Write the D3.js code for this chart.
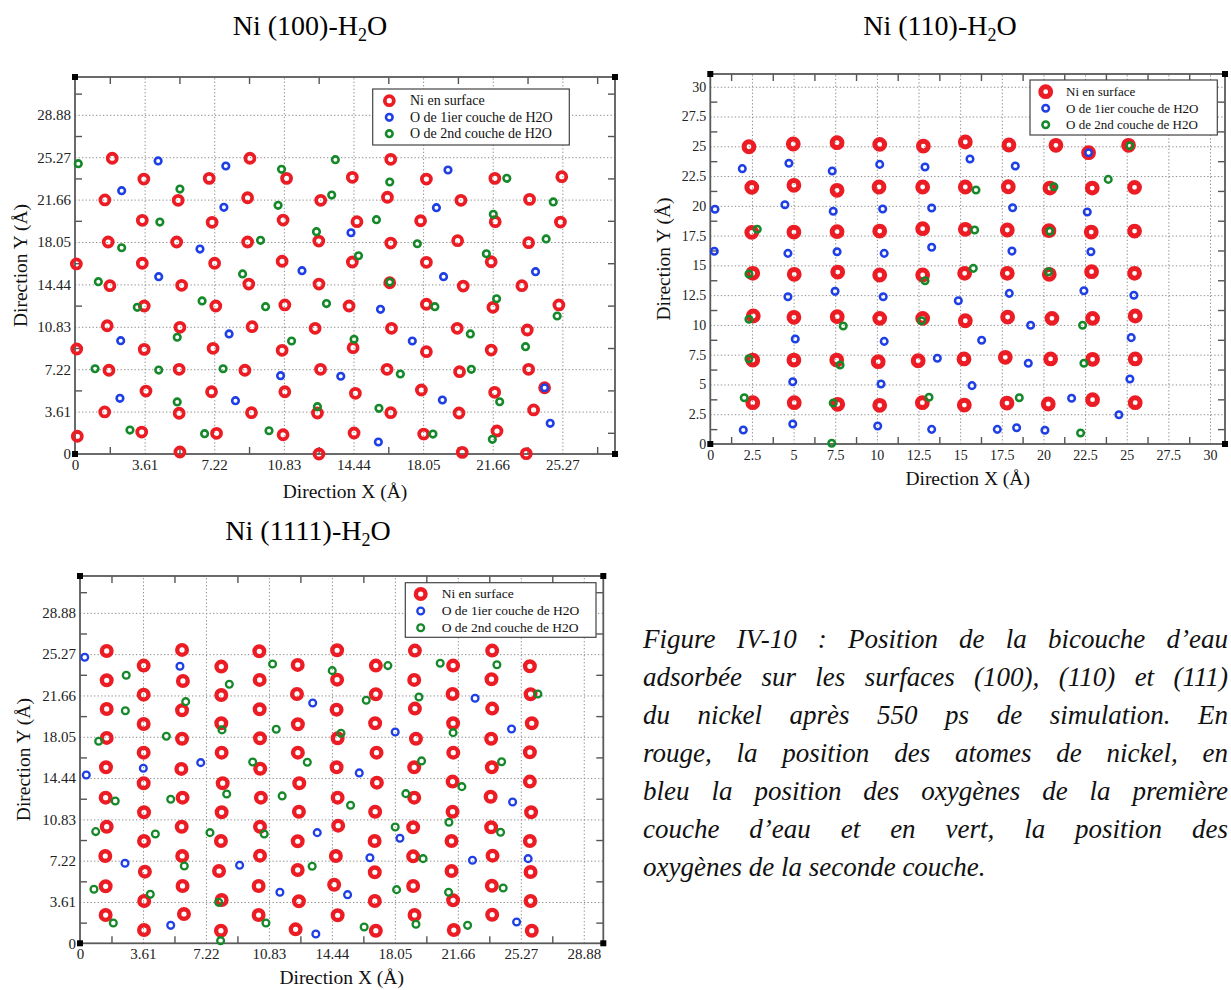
<!DOCTYPE html>
<html><head><meta charset="utf-8">
<script src="https://cdn.jsdelivr.net/npm/d3@7"></script>
<style>html,body{margin:0;padding:0;background:#fff;overflow:hidden}</style>
</head><body>
<svg id="c" width="1231" height="990" xmlns="http://www.w3.org/2000/svg"></svg>
<script>
// ---------- labels ----------
const legendLabels = ["Ni en surface", "O de 1ier couche de H2O", "O de 2nd couche de H2O"];
const ticks361 = [0, 3.61, 7.22, 10.83, 14.44, 18.05, 21.66, 25.27, 28.88];
const tickLabels361 = ["0", "3.61", "7.22", "10.83", "14.44", "18.05", "21.66", "25.27", "28.88"];
const ticks25 = [0, 2.5, 5, 7.5, 10, 12.5, 15, 17.5, 20, 22.5, 25, 27.5, 30];
const tickLabels25 = ["0", "2.5", "5", "7.5", "10", "12.5", "15", "17.5", "20", "22.5", "25", "27.5", "30"];
const captionLines = [
  "Figure IV-10 : Position de la bicouche d’eau",
  "adsorbée sur les surfaces (100), (110) et (111)",
  "du nickel après 550 ps de simulation. En",
  "rouge, la position des atomes de nickel, en",
  "bleu la position des oxygènes de la première",
  "couche d’eau et en vert, la position des",
  "oxygènes de la seconde couche."
];

// ---------- Ni (100) ----------
const ni100 = [[0.07,16.18],[0.09,8.94],[0.12,1.51],
[1.93,25.18],[1.55,21.63],[1.72,18.05],[1.81,14.33],[1.67,10.92],[1.76,7.13],[1.54,3.58],
[3.57,23.41],[3.49,19.90],[3.49,16.24],[3.59,12.60],[3.59,8.91],[3.68,5.36],[3.46,1.87],
[5.35,21.60],[5.27,18.05],[5.53,14.36],[5.44,10.79],[5.40,7.21],[5.40,3.47],[5.44,0.17],
[6.96,23.47],[7.11,19.73],[7.24,16.24],[7.30,12.60],[7.16,9.00],[7.08,5.30],[7.34,1.76],
[9.07,25.18],[8.95,21.82],[8.95,18.05],[9.01,14.47],[9.18,10.84],[8.81,7.13],[9.15,3.52],
[10.97,23.47],[10.79,19.92],[10.74,16.41],[10.88,12.69],[10.74,8.83],[10.88,5.30],[10.79,1.64],
[12.74,21.60],[12.64,18.13],[12.65,14.47],[12.45,10.70],[12.73,7.21],[12.57,3.49],[12.65,0.00],
[14.38,23.56],[14.62,19.78],[14.38,16.35],[14.21,12.60],[14.42,9.05],[14.54,5.17],[14.47,1.79],
[16.37,25.09],[16.20,21.86],[16.37,17.96],[16.32,14.58],[16.41,10.70],[16.18,7.21],[16.37,3.52],
[18.22,23.41],[17.92,19.86],[18.22,16.32],[18.22,12.75],[18.22,8.71],[17.96,5.45],[18.08,1.70],
[20.01,21.60],[19.84,18.16],[20.13,14.30],[19.82,10.70],[19.94,7.01],[19.91,3.49],[20.08,0.14],
[21.77,23.47],[21.79,19.78],[21.58,16.37],[21.67,12.49],[21.58,8.85],[21.76,5.25],[21.88,1.96],
[23.57,21.68],[23.52,17.99],[23.17,14.33],[23.45,10.56],[23.52,7.21],[23.78,3.75],[23.40,0.03],
[25.24,23.61],[25.17,19.75],[25.09,12.69],[24.35,5.64]];
const o1_100 = [[4.31,24.95],[2.42,22.42],[7.82,24.52],[7.72,21.00],[6.48,17.45],[4.34,15.10],[11.77,15.61],
[19.34,24.18],[18.74,20.97],[14.31,18.84],[19.11,15.10],[23.88,15.52],[15.84,12.32],[2.37,9.65],
[7.99,10.22],[10.66,6.67],[2.33,4.74],[8.32,4.54],[17.49,9.62],[13.78,6.62],[19.05,4.60],
[24.35,5.64],[24.64,2.61],[15.73,1.02]];
const o2_100 = [[0.17,24.72],[5.44,22.56],[4.40,19.75],[2.42,17.56],[1.21,14.67],[10.71,24.24],[10.53,21.17],
[9.62,18.19],[8.69,15.33],[6.59,13.03],[3.23,12.49],[9.88,12.54],[12.52,18.93],[13.50,25.06],
[16.32,23.16],[13.31,22.05],[15.63,19.95],[14.70,16.88],[17.75,17.90],[22.39,23.47],[21.69,20.41],
[24.80,21.46],[24.43,18.31],[21.33,17.05],[16.32,14.64],[13.04,12.81],[21.86,13.22],[18.66,12.54],
[5.30,9.94],[11.23,9.62],[1.04,7.26],[4.34,7.15],[7.68,7.26],[5.30,4.43],[12.57,4.03],[2.85,2.04],
[6.72,1.73],[10.06,1.98],[25.00,11.75],[20.50,10.22],[14.47,9.77],[23.36,9.14],[16.87,6.81],
[20.55,7.21],[22.02,4.45],[15.76,3.89],[18.56,1.70],[21.64,1.25]];

// ---------- Ni (110) ----------
const ni110 = [[2.32,24.96],[4.98,25.19],[7.61,25.30],[10.17,25.16],[12.79,25.02],[15.31,25.36],[17.93,25.11],[20.75,25.08],[22.71,24.46],[25.11,25.08],
[2.49,21.55],[5.02,21.72],[7.61,21.30],[10.13,21.58],[12.75,21.58],[15.31,21.58],[17.89,21.60],[20.39,21.49],[22.93,21.49],[25.47,21.55],
[2.49,17.77],[5.02,17.80],[7.61,17.83],[10.17,17.88],[12.75,18.08],[15.31,18.03],[17.83,17.97],[20.33,17.91],[22.87,17.80],[25.47,17.88],
[2.55,14.33],[5.04,14.25],[7.65,14.44],[10.17,14.19],[12.75,14.19],[15.27,14.33],[17.83,14.33],[20.35,14.25],[22.89,14.47],[25.47,14.33],
[2.58,10.75],[5.02,10.64],[7.62,10.69],[10.17,10.55],[12.75,10.55],[15.31,10.35],[17.85,10.66],[20.51,10.55],[22.95,10.55],[25.51,10.75],
[2.55,7.05],[5.02,7.05],[7.59,7.05],[10.08,6.91],[12.48,6.99],[15.23,7.14],[17.71,7.28],[20.43,7.14],[22.95,7.11],[25.51,7.14],
[2.55,3.47],[5.04,3.47],[7.65,3.33],[10.17,3.25],[12.73,3.47],[15.25,3.27],[17.81,3.44],[20.29,3.36],[22.95,3.72],[25.51,3.47]];
const o1_110 = [[1.92,23.12],[4.72,23.57],[7.32,22.92],[10.17,23.48],[12.89,23.26],[15.59,23.93],[18.31,23.34],[22.71,24.46],
[0.28,19.71],[4.48,20.09],[7.38,19.54],[10.35,19.73],[13.29,19.82],[18.15,19.84],[22.63,19.48],
[0.24,16.18],[4.66,16.01],[7.61,16.15],[10.44,16.01],[13.29,16.52],[18.11,16.20],[22.85,16.15],
[4.66,12.37],[7.49,12.82],[10.38,12.37],[14.89,12.03],[17.95,12.65],[22.43,12.87],[25.43,12.49],
[5.10,8.82],[10.44,8.62],[16.29,8.71],[25.27,8.93],[19.23,9.97],[13.63,7.20],[19.09,6.78],
[4.95,5.23],[10.25,5.04],[15.71,4.90],[25.19,5.46],[21.69,3.84],[24.53,2.46],
[1.98,1.18],[4.95,1.68],[10.05,1.51],[13.29,1.23],[17.23,1.23],[18.39,1.37],[20.09,1.15]];
const o2_110 = [[2.82,18.03],[2.32,14.27],[12.89,13.71],[25.19,25.05],[15.95,21.33],[20.63,21.60],[23.89,22.22],
[15.87,17.97],[20.39,17.86],[15.79,14.75],[20.31,14.47],[2.32,10.47],[7.98,9.91],[12.69,10.35],[22.35,9.97],
[2.32,7.16],[7.79,6.63],[22.43,6.78],[2.04,3.89],[7.38,3.44],[13.13,3.92],[18.55,3.89],[7.29,0.06],[22.23,0.92]];

// ---------- Ni (111) ----------
const ni111 = [
[1.53,25.55],[1.53,22.99],[1.53,20.48],[1.53,17.95],[1.49,15.38],[1.47,12.73],[1.53,10.19],[1.45,7.63],[1.47,4.98],[1.47,2.47],
[3.65,24.27],[3.65,21.73],[3.65,19.17],[3.65,16.66],[3.65,13.99],[3.67,11.45],[3.67,8.94],[3.72,6.26],[3.68,3.70],[3.67,1.16],
[5.85,25.64],[5.90,22.93],[5.85,20.37],[5.85,17.88],[5.81,15.24],[5.88,12.73],[5.83,10.19],[5.86,7.63],[5.88,5.01],[5.96,2.56],
[8.10,24.18],[8.10,21.70],[8.10,19.23],[8.12,16.66],[8.18,13.99],[8.12,11.45],[8.08,8.94],[7.97,6.32],[8.12,3.78],[8.08,1.10],
[10.28,25.52],[10.30,23.02],[10.30,20.45],[10.32,17.92],[10.33,15.26],[10.37,12.73],[10.32,10.19],[10.32,7.66],[10.24,5.01],[10.24,2.47],
[12.48,24.33],[12.44,21.79],[12.49,19.14],[12.49,16.66],[12.57,13.99],[12.55,11.50],[12.48,8.92],[12.48,6.41],[12.55,3.67],[12.36,1.22],
[14.74,25.61],[14.74,23.04],[14.71,20.42],[14.77,17.92],[14.71,15.38],[14.77,12.73],[14.80,10.28],[14.67,7.63],[14.57,5.12],[14.77,2.45],
[16.96,24.27],[16.96,21.77],[16.92,19.23],[17.00,16.66],[17.02,14.04],[16.92,11.50],[16.89,8.94],[16.90,6.21],[16.90,3.70],[16.96,1.10],
[19.20,25.58],[19.16,23.02],[19.20,20.51],[19.26,17.88],[19.16,15.38],[19.16,12.73],[19.10,10.14],[19.10,7.60],[19.10,5.01],[19.18,2.47],
[21.39,24.27],[21.36,21.79],[21.39,19.23],[21.40,16.66],[21.36,14.13],[21.36,11.50],[21.30,8.94],[21.30,6.32],[21.39,3.76],[21.43,1.16],
[23.63,25.58],[23.59,23.08],[23.63,20.51],[23.57,17.88],[23.61,15.38],[23.54,12.81],[23.57,10.14],[23.65,7.66],[23.61,5.03],[23.63,2.50],
[25.79,24.21],[25.83,21.77],[25.90,19.23],[25.79,16.70],[25.79,14.13],[25.86,11.45],[25.79,8.94],[25.83,6.23],[25.83,3.70],[25.90,1.10]];
const o1_111 = [[0.27,25.00],[5.73,24.21],[13.34,21.00],[0.36,14.71],[3.63,15.30],[6.92,15.79],[22.65,21.42],
[18.07,18.47],[24.74,18.73],[16.01,14.89],[13.60,9.67],[2.58,6.99],[9.15,6.82],[11.46,4.46],[5.20,1.57],
[13.52,0.81],[24.80,12.35],[18.34,9.18],[16.62,7.48],[22.50,7.26],[25.69,7.40],[15.34,4.25],[25.03,1.86]];
const o2_111 = [[2.65,23.43],[8.56,22.64],[11.04,24.41],[6.06,21.12],[2.60,20.33],[11.25,18.71],[8.14,18.65],
[4.95,18.09],[1.07,17.66],[9.90,15.85],[13.03,15.82],[5.20,12.59],[8.41,13.05],[11.59,12.88],[2.02,12.44],
[0.90,9.76],[4.32,9.55],[7.45,9.67],[10.56,9.55],[5.98,6.76],[13.31,6.73],[0.80,4.72],[4.03,4.28],[7.95,3.58],
[1.91,1.77],[10.66,1.77],[8.06,0.23],[14.46,23.83],[17.65,24.27],[20.65,24.48],[23.90,24.35],[16.41,21.24],
[19.43,21.53],[26.25,21.79],[14.96,18.36],[21.39,18.41],[19.58,15.94],[24.17,15.87],[21.89,13.69],[18.68,13.08],
[15.51,12.06],[18.07,10.17],[21.15,10.58],[24.11,9.70],[19.67,7.40],[18.15,4.69],[21.13,4.46],[24.26,4.83],
[16.29,1.42],[19.26,1.66],[22.22,1.57]];

// ---------- drawing ----------
const RED = "#ec1c24", BLUE = "#1f3fe6", GREEN = "#15892a";
const FONT = "'Liberation Serif', 'Times New Roman', serif";
const svg = d3.select("#c");
svg.append("rect").attr("width", 1231).attr("height", 990).attr("fill", "#fff");

function minorOf(majors, max) {
  const out = [];
  const step = majors[1] - majors[0];
  for (let v = step / 2; v < max; v += step) out.push(+v.toFixed(4));
  return out;
}

function drawPanel(c) {
  const g = svg.append("g");
  const x = d3.scaleLinear().domain(c.xd).range([c.l, c.r]);
  const y = d3.scaleLinear().domain(c.yd).range([c.b, c.t]);
  const W = c.r - c.l, H = c.b - c.t;

  // grid
  const gx = g.append("g").attr("transform", `translate(0,${c.b})`)
    .call(d3.axisBottom(x).tickValues(c.xt.filter(v => v > 0)).tickSize(-H).tickFormat(""));
  const gy = g.append("g").attr("transform", `translate(${c.l},0)`)
    .call(d3.axisLeft(y).tickValues(c.yt.filter(v => v > 0)).tickSize(-W).tickFormat(""));
  [gx, gy].forEach(a => {
    a.select(".domain").remove();
    a.selectAll("line").attr("stroke", "#8c8c8c").attr("stroke-width", 1).attr("stroke-dasharray", "1.3,2.2");
  });

  // minor ticks on all sides
  const mx = minorOf(c.xt, c.xd[1]), my = minorOf(c.yt, c.yd[1]);
  const tickAxes = [
    [d3.axisBottom(x), `translate(0,${c.b})`, mx],
    [d3.axisTop(x), `translate(0,${c.t})`, mx],
    [d3.axisLeft(y), `translate(${c.l},0)`, my],
    [d3.axisRight(y), `translate(${c.r},0)`, my]
  ];
  tickAxes.forEach(([ax, tr, vals]) => {
    const a = g.append("g").attr("transform", tr).call(ax.tickValues(vals).tickSize(-7).tickFormat(""));
    a.select(".domain").remove();
    a.selectAll("line").attr("stroke", "#555").attr("stroke-width", 1.4);
  });

  // frame
  g.append("rect").attr("x", c.l).attr("y", c.t).attr("width", W).attr("height", H)
    .attr("fill", "none").attr("stroke", "#5a5a5a").attr("stroke-width", 1.8);

  // tick labels
  const lx = g.append("g").attr("transform", `translate(0,${c.b})`)
    .call(d3.axisBottom(x).tickValues(c.xt).tickSize(0).tickPadding(c.xpad)
      .tickFormat((d, i) => c.xl[i]));
  const ly = g.append("g").attr("transform", `translate(${c.l},0)`)
    .call(d3.axisLeft(y).tickValues(c.yt).tickSize(0).tickPadding(4)
      .tickFormat((d, i) => c.yl[i]));
  [lx, ly].forEach(a => {
    a.select(".domain").remove();
    a.selectAll("text").attr("font-family", FONT).attr("font-size", c.tfs).attr("fill", "#222");
  });

  // corner squares
  [[c.l, c.t], [c.r, c.t], [c.l, c.b], [c.r, c.b]].forEach(([px, py]) => {
    g.append("rect").attr("x", px - 3).attr("y", py - 3).attr("width", 6).attr("height", 6).attr("fill", "#000");
  });

  // points
  const series = [
    [c.ni, RED, c.rr, c.rs],
    [c.o1, BLUE, c.br, c.bs],
    [c.o2, GREEN, c.br, c.bs]
  ];
  series.forEach(([data, col, r, sw]) => {
    g.append("g").selectAll("circle").data(data).join("circle")
      .attr("cx", d => x(d[0])).attr("cy", d => y(d[1])).attr("r", r)
      .attr("fill", "none").attr("stroke", col).attr("stroke-width", sw);
  });

  // axis titles
  g.append("text").attr("x", (c.l + c.r) / 2).attr("y", c.xty).attr("text-anchor", "middle")
    .attr("font-family", FONT).attr("font-size", 19.5).attr("fill", "#111").text("Direction X (Å)");
  g.append("text").attr("transform", `translate(${c.ytx},${(c.t + c.b) / 2}) rotate(-90)`)
    .attr("text-anchor", "middle").attr("font-family", FONT).attr("font-size", 19.5).attr("fill", "#111")
    .text("Direction Y (Å)");

  // legend
  const L = c.leg;
  g.append("rect").attr("x", L.x0).attr("y", L.y0).attr("width", L.x1 - L.x0).attr("height", L.y1 - L.y0)
    .attr("fill", "#fff").attr("stroke", "#444").attr("stroke-width", 1.2);
  legendLabels.forEach((lab, i) => {
    const s = series[i];
    g.append("circle").attr("cx", L.mx).attr("cy", L.rows[i]).attr("r", s[2])
      .attr("fill", "none").attr("stroke", s[1]).attr("stroke-width", s[3]);
    g.append("text").attr("x", L.tx).attr("y", L.rows[i]).attr("dy", "0.33em")
      .attr("font-family", FONT).attr("font-size", L.fs).attr("fill", "#111").text(lab);
  });

  // panel title
  const t = g.append("text").attr("x", c.titleX).attr("y", c.titleY).attr("text-anchor", "middle")
    .attr("font-family", FONT).attr("font-size", 28).attr("fill", "#000");
  t.append("tspan").text(c.title);
  t.append("tspan").attr("font-size", 18).attr("dy", 6).text("2");
  t.append("tspan").attr("dy", -6).text("O");
}

drawPanel({
  l: 75, r: 615, t: 77, b: 454, xd: [0, 28], yd: [0, 32.1],
  xt: ticks361.slice(0, 8), xl: tickLabels361.slice(0, 8), yt: ticks361, yl: tickLabels361,
  xpad: 5, tfs: 15, ni: ni100, o1: o1_100, o2: o2_100,
  rr: 4.5, rs: 3.8, br: 3.3, bs: 2.6,
  xty: 498, ytx: 27,
  leg: { x0: 372.7, y0: 89, x1: 569.3, y1: 145, mx: 389.3, tx: 410, rows: [100.7, 117.3, 133.7], fs: 14 },
  title: "Ni (100)-H", titleX: 310, titleY: 35
});
drawPanel({
  l: 710.3, r: 1225, t: 74, b: 444, xd: [0, 30.9], yd: [0, 31.07],
  xt: ticks25, xl: tickLabels25, yt: ticks25, yl: tickLabels25,
  xpad: 6, tfs: 14, ni: ni110, o1: o1_110, o2: o2_110,
  rr: 4.9, rs: 5, br: 3.3, bs: 2.5,
  xty: 485, ytx: 670,
  leg: { x0: 1030, y0: 80, x1: 1217.3, y1: 135, mx: 1045.7, tx: 1066, rows: [91.7, 108.3, 124.7], fs: 13 },
  title: "Ni (110)-H", titleX: 940, titleY: 35
});
drawPanel({
  l: 80, r: 603.3, t: 576, b: 943.3, xd: [0, 30], yd: [0, 32.1],
  xt: ticks361, xl: tickLabels361, yt: ticks361, yl: tickLabels361,
  xpad: 5, tfs: 15, ni: ni111, o1: o1_111, o2: o2_111,
  rr: 4.8, rs: 4.4, br: 3.4, bs: 2.3,
  xty: 984, ytx: 30,
  leg: { x0: 405.3, y0: 582.7, x1: 596, y1: 637.3, mx: 420.7, tx: 441.7, rows: [594, 611, 627.7], fs: 13.5 },
  title: "Ni (1111)-H", titleX: 308, titleY: 540
});

// caption (justified lines, kept inside the picture)
const capX = 643, capR = 1228, capY0 = 648, capDY = 38;
const cap = svg.append("g");
captionLines.forEach((line, i) => {
  const t = cap.append("text").attr("x", capX).attr("y", capY0 + i * capDY)
    .attr("font-family", FONT).attr("font-size", 27).attr("font-style", "italic").attr("fill", "#111")
    .text(line);
  if (i < captionLines.length - 1) {
    const w = t.node().getComputedTextLength();
    const spaces = (line.match(/ /g) || []).length;
    if (spaces > 0) t.attr("word-spacing", (capR - capX - w) / spaces);
  }
});
</script>
</body></html>
